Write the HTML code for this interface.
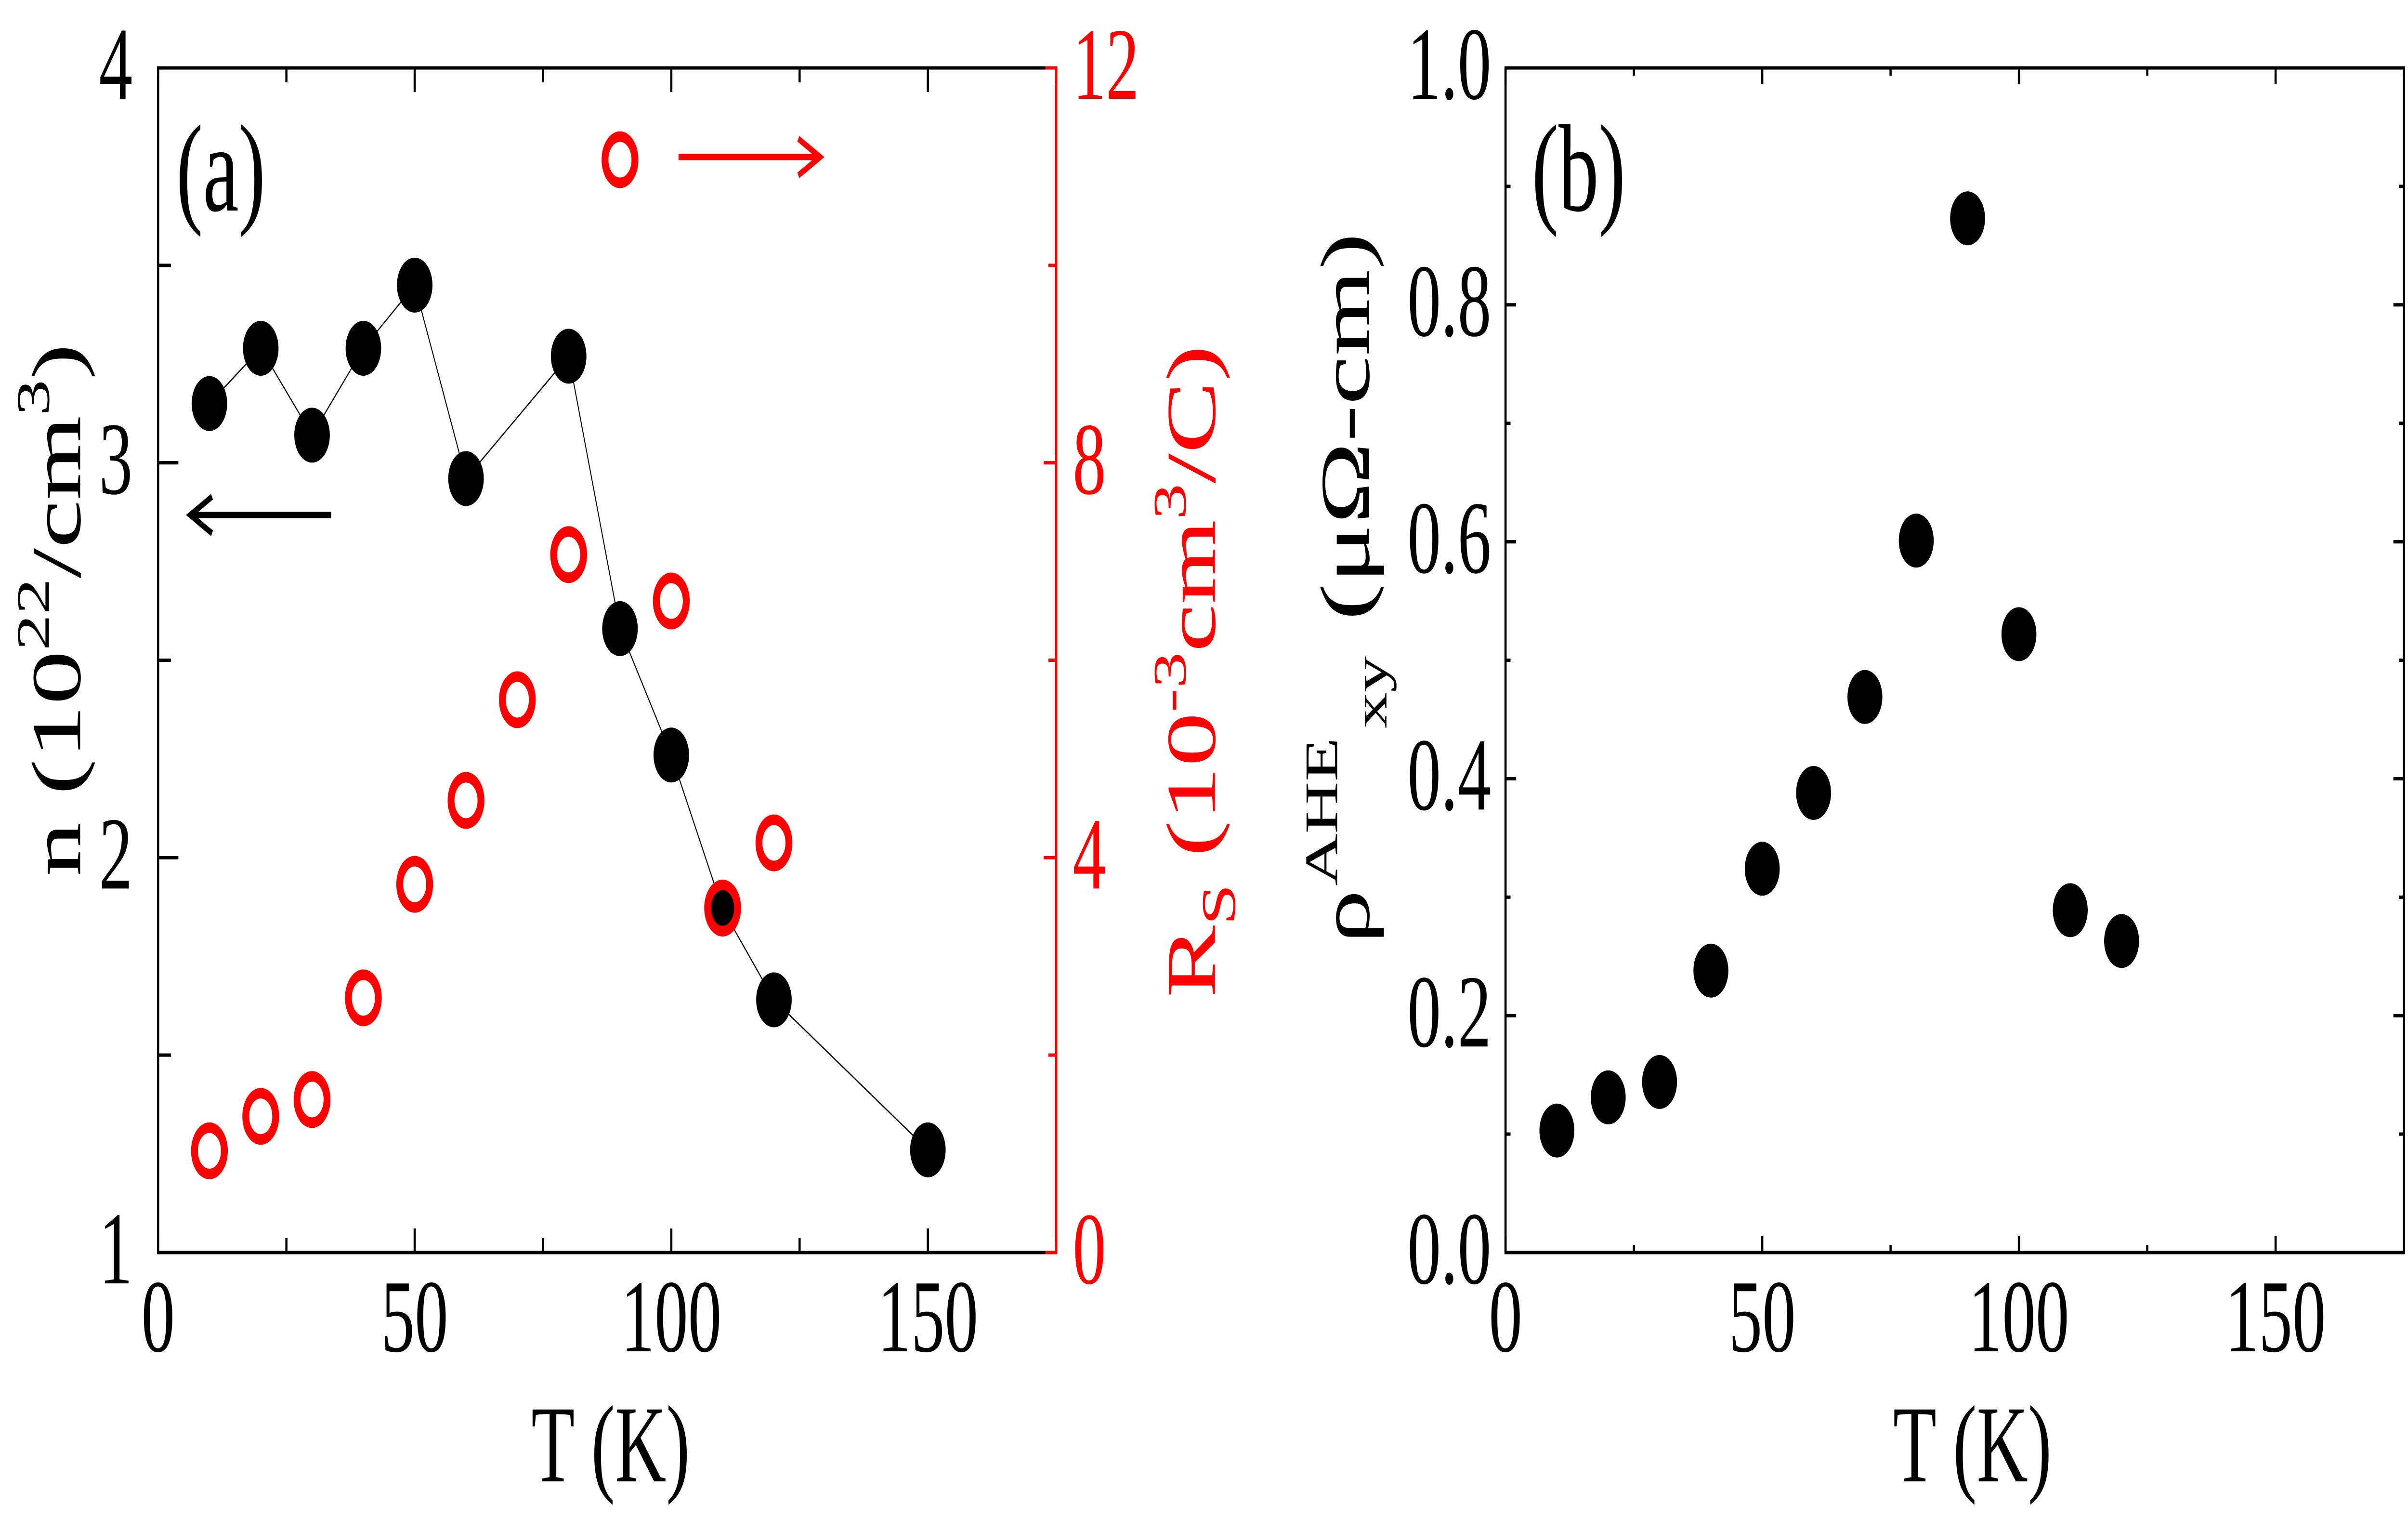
<!DOCTYPE html>
<html><head><meta charset="utf-8"><style>
html,body{margin:0;padding:0;background:#fff;width:100%;height:100%;overflow:hidden;}
svg{display:block;font-family:"Liberation Serif",serif;width:100vw;height:100vh;}
</style></head><body>
<svg id="fig" viewBox="0 0 7722 3151" preserveAspectRatio="none" xmlns="http://www.w3.org/2000/svg">
<g id="pa"></g>
<g id="pb"></g>
</svg>
<script>
// ---- data ----
const tempN = [10,20,30,40,50,60,80,90,100,110,120,150];
const nValues = [3.15,3.29,3.07,3.29,3.45,2.96,3.27,2.58,2.26,1.87,1.64,1.26];
const tempRs = [10,20,30,40,50,60,70,80,90,100,110,120];
const rsValues = [1.03,1.38,1.55,2.58,3.73,4.58,5.6,7.07,11.07,6.6,3.49,4.15];
const tempRho = [10,20,30,40,50,60,70,80,90,100,110,120];
const rhoValues = [0.103,0.131,0.144,0.238,0.324,0.388,0.469,0.601,0.873,0.522,0.289,0.263];
const xTicks = [0,50,100,150];
const nTicks = [1,2,3,4];
const rsTicks = [0,4,8,12];
const rhoTicks = [0.0,0.2,0.4,0.6,0.8,1.0];

const NS="http://www.w3.org/2000/svg";
function mk(parent,tag,attrs,text){const e=document.createElementNS(NS,tag);for(const k in attrs)e.setAttribute(k,attrs[k]);if(text!==undefined)e.textContent=text;parent.appendChild(e);return e;}

const A={l:507,r:3387,t:141,b:2600,xmax:175};
const B={l:4828,r:7709,t:141,b:2600,xmax:175};
const xa=v=>A.l+v/A.xmax*(A.r-A.l);
const xb=v=>B.l+v/B.xmax*(B.r-B.l);
const yN=v=>A.b-(v-1)/3*(A.b-A.t);
const yRs=v=>A.b-v/12*(A.b-A.t);
const yRho=v=>B.b-v/1.0*(B.b-B.t);

const pa=document.getElementById('pa');
const pb=document.getElementById('pb');

// ---------- Panel A ----------
for(let v=0;v<=175;v+=25){
  const maj=v%50===0, L=maj?50:30;
  let t=mk(pa,'line',{x1:xa(v),x2:xa(v),y1:A.b,y2:A.b-L,stroke:'#000','stroke-width':7});
  
  
  t=mk(pa,'line',{x1:xa(v),x2:xa(v),y1:A.t,y2:A.t+L,stroke:'#000','stroke-width':7});
  
  
}
for(const v of xTicks){
  const t=mk(pa,'text',{x:xa(v),y:2805,'font-size':215,'text-anchor':'middle',fill:'#000'},String(v));
  
  
}
for(let v=1;v<=4.001;v+=0.5){
  const maj=Math.abs(v-Math.round(v))<1e-6, L=maj?65:41;
  const t=mk(pa,'line',{x1:A.l,x2:A.l+L,y1:yN(v),y2:yN(v),stroke:'#000','stroke-width':7});
  
  
}
for(const v of nTicks){
  const t=mk(pa,'text',{x:425,y:yN(v)+64,'font-size':215,'text-anchor':'end',fill:'#000'},String(v));
  
  
}
for(let v=0;v<=12;v+=2){
  const L=(v%4===0)?40:25;
  const t=mk(pa,'line',{x1:A.r,x2:A.r-L,y1:yRs(v),y2:yRs(v),stroke:'#f00','stroke-width':7});
  
  
}
for(const v of rsTicks){
  const t=mk(pa,'text',{x:3440,y:yRs(v)+64,'font-size':213,'text-anchor':'start',fill:'#f00'},String(v));
  
  
}
let fr=mk(pa,'path',{d:`M${A.r} ${A.t} H${A.l} V${A.b} H${A.r}`,fill:'none',stroke:'#000','stroke-width':7});


let ra=mk(pa,'path',{d:`M${A.r-35} ${A.t} H${A.r} V${A.b} H${A.r-35}`,fill:'none',stroke:'#f00','stroke-width':7});



const pts=tempN.map((t,i)=>`${xa(t)},${yN(nValues[i])}`).join(' ');
let nl=mk(pa,'polyline',{points:pts,fill:'none',stroke:'#000','stroke-width':3});


tempN.forEach((t,i)=>{
  const c=mk(pa,'circle',{cx:xa(t),cy:yN(nValues[i]),r:57,fill:'#000'});
  
  
});
tempRs.forEach((t,i)=>{
  const c=mk(pa,'circle',{cx:xa(t),cy:yRs(rsValues[i]),r:48,fill:'none',stroke:'#f00','stroke-width':22});
  
  
});
let ab=mk(pa,'path',{d:'M1062 1069 H610 M680 1031 L610 1069 L680 1107',fill:'none',stroke:'#000','stroke-width':13});


let ar=mk(pa,'path',{d:'M2176 326 H2630 M2560 288 L2630 326 L2560 364',fill:'none',stroke:'#f00','stroke-width':13});



let tA=mk(pa,'text',{x:1958,y:3075,'font-size':228,'text-anchor':'middle'},'T (K)');


let la=mk(pa,'text',{x:565,y:437,'font-size':258},'(a)');



const g=document.createElementNS(NS,'g');g.setAttribute('transform','rotate(-90)');pa.appendChild(g);
g.innerHTML='<text x="-1819" y="257" font-size="225">n (10<tspan font-size="150" dy="-100">22</tspan><tspan dy="100">/cm</tspan><tspan font-size="150" dy="-100">3</tspan><tspan dy="100">)</tspan></text>'+
'<text x="-2071" y="3896" font-size="225" fill="#f00">R<tspan font-size="155" dy="64">S</tspan><tspan dy="-64"> (10</tspan><tspan font-size="150" dy="-94">-3</tspan><tspan dy="94">cm</tspan><tspan font-size="150" dy="-94">3</tspan><tspan dy="94">/C)</tspan></text>';

// ---------- Panel B ----------
for(let v=0;v<=175;v+=25){
  const L=(v%50===0)?34:16;
  let t=mk(pb,'line',{x1:xb(v),x2:xb(v),y1:B.b,y2:B.b-L,stroke:'#000','stroke-width':7});
  
  
  t=mk(pb,'line',{x1:xb(v),x2:xb(v),y1:B.t,y2:B.t+L,stroke:'#000','stroke-width':7});
  
  
}
for(const v of xTicks){
  const t=mk(pb,'text',{x:xb(v),y:2805,'font-size':215,'text-anchor':'middle'},String(v));
  
  
}
for(let k=0;k<=10;k++){
  const v=k/10, L=(k%2===0)?34:16;
  let t=mk(pb,'line',{x1:B.l,x2:B.l+L,y1:yRho(v),y2:yRho(v),stroke:'#000','stroke-width':7});
  
  
  t=mk(pb,'line',{x1:B.r,x2:B.r-L,y1:yRho(v),y2:yRho(v),stroke:'#000','stroke-width':7});
  
  
}
for(const v of rhoTicks){
  const t=mk(pb,'text',{x:4782,y:yRho(v)+64,'font-size':215,'text-anchor':'end'},v.toFixed(1));
  
  
}
let frb=mk(pb,'rect',{x:B.l,y:B.t,width:B.r-B.l,height:B.b-B.t,fill:'none',stroke:'#000','stroke-width':7});


tempRho.forEach((t,i)=>{
  const c=mk(pb,'circle',{cx:xb(t),cy:yRho(rhoValues[i]),r:56,fill:'#000'});
  
  
});
let tt=mk(pb,'text',{x:6325,y:3075,'font-size':228,'text-anchor':'middle'},'T (K)');


let lb=mk(pb,'text',{x:4912,y:437,'font-size':258},'(b)');


const g2=document.createElementNS(NS,'g');g2.setAttribute('transform','rotate(-90)');pb.appendChild(g2);
g2.innerHTML='<g><text x="-1959" y="4390" font-size="225">ρ</text>'+
'<text x="-1839" y="4288" font-size="150">AHE</text>'+
'<text x="-1512" y="4446" font-size="150">xy</text>'+
'<text x="-1288" y="4390" font-size="225" textLength="805" lengthAdjust="spacingAndGlyphs">(μΩ-cm)</text></g>';
</script>
</body></html>
